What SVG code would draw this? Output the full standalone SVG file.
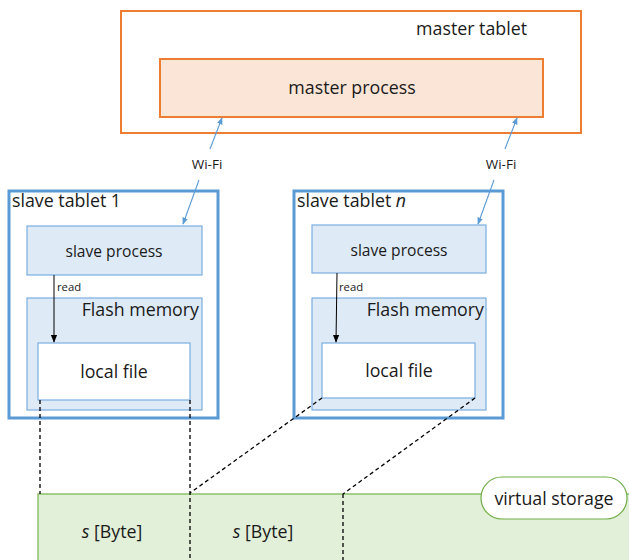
<svg xmlns="http://www.w3.org/2000/svg" width="629" height="560" viewBox="0 0 629 560">
<defs>
<marker id="ab" viewBox="0 0 10 10" refX="9" refY="5" markerWidth="7" markerHeight="7" orient="auto" markerUnits="userSpaceOnUse"><path d="M0,1 L10,5 L0,9 z" fill="#5B9BD5"/></marker>
<marker id="ak" viewBox="0 0 10 10" refX="9" refY="5" markerWidth="8" markerHeight="8" orient="auto" markerUnits="userSpaceOnUse"><path d="M0,1 L10,5 L0,9 z" fill="#000"/></marker>
</defs>
<style>
text{font-family:"Open Sans","Noto Sans",sans-serif;fill:#1a1a1a}
.big{font-size:17.8px}
.mid{font-size:15.6px}
.sm{font-size:13.5px}
.xs{font-size:11.3px}
.tab{fill:#fff;stroke:#5B9BD5;stroke-width:3}
.proc{fill:#DEEBF7;stroke:#7BAEDF;stroke-width:1.2}
.file{fill:#fff;stroke:#7BAEDF;stroke-width:1.2}
.dash{stroke:#000;stroke-width:1.3;stroke-dasharray:4,3;fill:none}
.wifi{stroke:#5B9BD5;stroke-width:1.1;fill:none}
</style>
<g id="virtual-storage-area">
<rect x="38" y="494" width="600" height="80" fill="#E2F0D9" stroke="#8CC26A" stroke-width="1.5"/>
<text class="big" x="112" y="538" text-anchor="middle"><tspan font-style="italic">s</tspan> [Byte]</text>
<text class="big" x="263" y="538" text-anchor="middle"><tspan font-style="italic">s</tspan> [Byte]</text>
</g>
<g id="master-tablet">
<rect x="121" y="11" width="460" height="122" fill="#fff" stroke="#ED7D31" stroke-width="2"/>
<text class="big" x="527" y="35" text-anchor="end">master tablet</text>
</g>
<g id="master-process">
<rect x="160" y="59" width="383" height="58" fill="#FBE5D6" stroke="#ED7D31" stroke-width="2"/>
<text class="big" x="352" y="94" text-anchor="middle">master process</text>
</g>
<g id="slave-tablet-1">
<rect class="tab" x="9" y="191" width="209" height="227"/>
<text class="big" x="12" y="207">slave tablet 1</text>
</g>
<g id="slave-process-1">
<rect class="proc" x="27" y="226" width="175" height="49"/>
<text class="mid" x="114" y="257" text-anchor="middle">slave process</text>
</g>
<g id="flash-memory-1">
<rect class="proc" x="27" y="298" width="175" height="112"/>
<text class="big" x="199" y="316" text-anchor="end">Flash memory</text>
</g>
<g id="local-file-1">
<rect class="file" x="38" y="343" width="152" height="57"/>
<text class="big" x="114" y="378" text-anchor="middle">local file</text>
</g>
<g id="slave-tablet-n">
<rect class="tab" x="294" y="191" width="209" height="227"/>
<text class="big" x="297" y="207">slave tablet <tspan font-style="italic">n</tspan></text>
</g>
<g id="slave-process-n">
<rect class="proc" x="312" y="225" width="174" height="48"/>
<text class="mid" x="399" y="256" text-anchor="middle">slave process</text>
</g>
<g id="flash-memory-n">
<rect class="proc" x="312" y="298" width="174" height="112"/>
<text class="big" x="484" y="316" text-anchor="end">Flash memory</text>
</g>
<g id="local-file-n">
<rect class="file" x="322" y="343" width="153" height="55"/>
<text class="big" x="399" y="377" text-anchor="middle">local file</text>
</g>
<g id="virtual-storage-label">
<rect x="481" y="477" width="146" height="42" rx="21" fill="#fff" stroke="#70AD47" stroke-width="1.2"/>
<text class="big" x="554" y="505" text-anchor="middle">virtual storage</text>
</g>
<g id="connectors">
<line class="wifi" x1="210" y1="149" x2="222" y2="118" marker-end="url(#ab)"/>
<line class="wifi" x1="199" y1="180" x2="183" y2="224" marker-end="url(#ab)"/>
<text class="sm" x="207" y="169" text-anchor="middle">Wi-Fi</text>
<line class="wifi" x1="505" y1="149" x2="517" y2="118" marker-end="url(#ab)"/>
<line class="wifi" x1="494" y1="180" x2="478" y2="224" marker-end="url(#ab)"/>
<text class="sm" x="501" y="169" text-anchor="middle">Wi-Fi</text>
<line x1="54" y1="275" x2="54" y2="342" stroke="#000" stroke-width="1" marker-end="url(#ak)"/>
<text class="xs" x="57" y="291">read</text>
<line x1="337" y1="273" x2="336" y2="342" stroke="#000" stroke-width="1" marker-end="url(#ak)"/>
<text class="xs" x="339" y="291">read</text>
<line class="dash" x1="40" y1="400" x2="40" y2="494"/>
<line class="dash" x1="190" y1="400" x2="190" y2="560"/>
<line class="dash" x1="322" y1="398" x2="190" y2="493"/>
<line class="dash" x1="475" y1="398" x2="343" y2="494"/>
<line class="dash" x1="343" y1="494" x2="343" y2="560"/>
</g>
</svg>
